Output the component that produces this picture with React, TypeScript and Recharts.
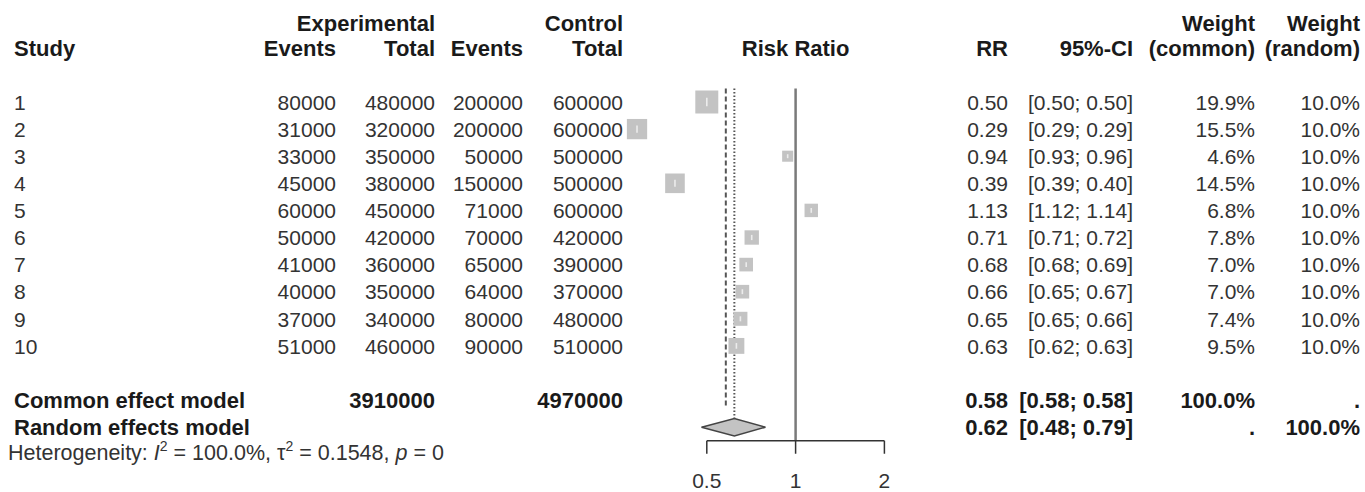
import React from 'react';
import { ComposedChart, Scatter, Area, XAxis, YAxis, ReferenceLine } from 'recharts';

// ---------- data ----------
const studies = ['1', '2', '3', '4', '5', '6', '7', '8', '9', '10'];
const expEvents = [80000, 31000, 33000, 45000, 60000, 50000, 41000, 40000, 37000, 51000];
const expTotal = [480000, 320000, 350000, 380000, 450000, 420000, 360000, 350000, 340000, 460000];
const ctrlEvents = [200000, 200000, 50000, 150000, 71000, 70000, 65000, 64000, 80000, 90000];
const ctrlTotal = [600000, 600000, 500000, 500000, 600000, 420000, 390000, 370000, 480000, 510000];
const rr = [0.5, 0.29, 0.94, 0.39, 1.13, 0.71, 0.68, 0.66, 0.65, 0.63];
const ciLower = [0.5, 0.29, 0.93, 0.39, 1.12, 0.71, 0.68, 0.65, 0.65, 0.62];
const ciUpper = [0.5, 0.29, 0.96, 0.4, 1.14, 0.72, 0.69, 0.67, 0.66, 0.63];
const weightCommon = [19.9, 15.5, 4.6, 14.5, 6.8, 7.8, 7.0, 7.0, 7.4, 9.5];
const weightRandom = [10.0, 10.0, 10.0, 10.0, 10.0, 10.0, 10.0, 10.0, 10.0, 10.0];

const commonTotals = { exp: 3910000, ctrl: 4970000 };
const commonEffect = { rr: 0.58, lower: 0.58, upper: 0.58 };
const randomEffect = { rr: 0.62, lower: 0.48, upper: 0.79 };
const xTicks = [0.5, 1, 2];

// ---------- layout ----------
const W = 1365;
const H = 492;
const FONT = '"Liberation Sans", Arial, Helvetica, sans-serif';
const FS = 21;
const FSB = 22;
const ROW1 = 102;
const ROWH = 27.1;
const PLOT_L = 600;
const PLOT_R = 900;
const X_ONE = 795.6;
const X_UNIT = 88.8; // px per doubling
const XMIN = Math.pow(2, (PLOT_L - X_ONE) / X_UNIT);
const XMAX = Math.pow(2, (PLOT_R - X_ONE) / X_UNIT);
const TOP = ROW1 - 0.5 * ROWH;
const BOTTOM = ROW1 + 12.5 * ROWH;

const COL = {
  study: 14,
  expEvents: 336,
  expTotal: 435,
  ctrlEvents: 523,
  ctrlTotal: 623,
  rr: 1008,
  ci: 1133,
  wCommon: 1255,
  wRandom: 1360,
};

const COMMON_ROW = 12;
const RANDOM_ROW = 13;
const DIAMOND_H = 0.32;

type Cell = { x: number; text: string; anchor: 'start' | 'end' };

const fmt2 = (v: number) => v.toFixed(2);
const ciText = (l: number, u: number) => `[${fmt2(l)}; ${fmt2(u)}]`;
const pct = (v: number) => `${v.toFixed(1)}%`;

const studyPoints = studies.map((s, i) => ({ x: rr[i], y: i + 1, w: weightCommon[i] }));

const textRows = [
  ...studies.map((s, i) => ({
    x: 1,
    y: i + 1,
    bold: false,
    cells: [
      { x: COL.study, text: s, anchor: 'start' },
      { x: COL.expEvents, text: String(expEvents[i]), anchor: 'end' },
      { x: COL.expTotal, text: String(expTotal[i]), anchor: 'end' },
      { x: COL.ctrlEvents, text: String(ctrlEvents[i]), anchor: 'end' },
      { x: COL.ctrlTotal, text: String(ctrlTotal[i]), anchor: 'end' },
      { x: COL.rr, text: fmt2(rr[i]), anchor: 'end' },
      { x: COL.ci, text: ciText(ciLower[i], ciUpper[i]), anchor: 'end' },
      { x: COL.wCommon, text: pct(weightCommon[i]), anchor: 'end' },
      { x: COL.wRandom, text: pct(weightRandom[i]), anchor: 'end' },
    ] as Cell[],
  })),
  {
    x: 1,
    y: COMMON_ROW,
    bold: true,
    cells: [
      { x: COL.study, text: 'Common effect model', anchor: 'start' },
      { x: COL.expTotal, text: String(commonTotals.exp), anchor: 'end' },
      { x: COL.ctrlTotal, text: String(commonTotals.ctrl), anchor: 'end' },
      { x: COL.rr, text: fmt2(commonEffect.rr), anchor: 'end' },
      { x: COL.ci, text: ciText(commonEffect.lower, commonEffect.upper), anchor: 'end' },
      { x: COL.wCommon, text: '100.0%', anchor: 'end' },
      { x: COL.wRandom, text: '.', anchor: 'end' },
    ] as Cell[],
  },
  {
    x: 1,
    y: RANDOM_ROW,
    bold: true,
    cells: [
      { x: COL.study, text: 'Random effects model', anchor: 'start' },
      { x: COL.rr, text: fmt2(randomEffect.rr), anchor: 'end' },
      { x: COL.ci, text: ciText(randomEffect.lower, randomEffect.upper), anchor: 'end' },
      { x: COL.wCommon, text: '.', anchor: 'end' },
      { x: COL.wRandom, text: '100.0%', anchor: 'end' },
    ] as Cell[],
  },
];

const diamondData = [
  { x: randomEffect.lower, band: [RANDOM_ROW, RANDOM_ROW] },
  { x: randomEffect.rr, band: [RANDOM_ROW - DIAMOND_H, RANDOM_ROW + DIAMOND_H] },
  { x: randomEffect.upper, band: [RANDOM_ROW, RANDOM_ROW] },
];

const SquareShape = (props: any) => {
  const { cx, cy, payload } = props;
  if (cx == null || cy == null) return <g />;
  const s = 5.15 * Math.sqrt(payload.w);
  return (
    <g>
      <rect x={cx - s / 2} y={cy - s / 2} width={s} height={s} fill="#c3c3c3" />
      <line x1={cx} x2={cx} y1={cy - s * 0.18} y2={cy + s * 0.18} stroke="#ececec" strokeWidth={1.6} />
    </g>
  );
};

const RowTextShape = (props: any) => {
  const { cy, payload } = props;
  if (cy == null) return <g />;
  const fs = payload.bold ? FSB : FS;
  return (
    <g>
      {payload.cells.map((c: Cell, k: number) => (
        <text
          key={k}
          x={c.x}
          y={cy + fs * 0.37}
          textAnchor={c.anchor}
          fontFamily={FONT}
          fontSize={fs}
          fontWeight={payload.bold ? 700 : 400}
          fill={payload.bold ? '#1a1a1a' : '#333'}
        >
          {c.text}
        </text>
      ))}
    </g>
  );
};

const headerA: Cell[] = [
  { x: COL.expTotal, text: 'Experimental', anchor: 'end' },
  { x: COL.ctrlTotal, text: 'Control', anchor: 'end' },
  { x: COL.wCommon, text: 'Weight', anchor: 'end' },
  { x: COL.wRandom, text: 'Weight', anchor: 'end' },
];
const headerB: Cell[] = [
  { x: COL.study, text: 'Study', anchor: 'start' },
  { x: COL.expEvents, text: 'Events', anchor: 'end' },
  { x: COL.expTotal, text: 'Total', anchor: 'end' },
  { x: COL.ctrlEvents, text: 'Events', anchor: 'end' },
  { x: COL.ctrlTotal, text: 'Total', anchor: 'end' },
  { x: COL.rr, text: 'RR', anchor: 'end' },
  { x: COL.ci, text: '95%-CI', anchor: 'end' },
  { x: COL.wCommon, text: '(common)', anchor: 'end' },
  { x: COL.wRandom, text: '(random)', anchor: 'end' },
];

export default function App() {
  return (
    <div style={{ position: 'absolute', left: 0, top: 0, width: W, height: H, background: '#fff' }}>
      <ComposedChart
        width={W}
        height={H}
        data={diamondData}
        margin={{ top: TOP, right: W - PLOT_R, bottom: H - BOTTOM - 40, left: PLOT_L }}
      >
        <XAxis
          type="number"
          dataKey="x"
          scale="log"
          domain={[XMIN, XMAX]}
          ticks={xTicks}
          interval={0}
          axisLine={false}
          tickLine={{ stroke: '#333', strokeWidth: 1.5 }}
          tickSize={13}
          tickMargin={19}
          height={40}
          tick={{ fill: '#333', fontSize: FS, fontFamily: FONT }}
          tickFormatter={(v: number) => String(v)}
        />
        <YAxis type="number" dataKey="y" domain={[0.5, 13.5]} reversed hide />
        <ReferenceLine x={1} stroke="#7a7a7a" strokeWidth={2.5} />
        <ReferenceLine
          segment={[
            { x: commonEffect.rr, y: 0.5 },
            { x: commonEffect.rr, y: 12.3 },
          ]}
          stroke="#555"
          strokeWidth={2}
          strokeDasharray="5 3"
        />
        <ReferenceLine
          segment={[
            { x: randomEffect.rr, y: 0.5 },
            { x: randomEffect.rr, y: RANDOM_ROW - DIAMOND_H },
          ]}
          stroke="#555"
          strokeWidth={2}
          strokeDasharray="1.5 2"
        />
        <ReferenceLine
          segment={[
            { x: xTicks[0], y: 13.5 },
            { x: xTicks[xTicks.length - 1], y: 13.5 },
          ]}
          stroke="#333"
          strokeWidth={1.5}
        />
        <Area
          type="linear"
          dataKey="band"
          stroke="#444"
          strokeWidth={1.5}
          fill="#c3c3c3"
          fillOpacity={1}
          dot={false}
          activeDot={false}
          isAnimationActive={false}
        />
        <Scatter data={studyPoints} shape={SquareShape} isAnimationActive={false} />
        <Scatter data={textRows} shape={RowTextShape} isAnimationActive={false} />
      </ComposedChart>
      <svg
        width={W}
        height={H}
        style={{ position: 'absolute', left: 0, top: 0, pointerEvents: 'none' }}
      >
        {headerA.map((c, k) => (
          <text key={'a' + k} x={c.x} y={23 + FSB * 0.36} textAnchor={c.anchor} fontFamily={FONT} fontSize={FSB} fontWeight={700} fill="#1a1a1a">
            {c.text}
          </text>
        ))}
        {headerB.map((c, k) => (
          <text key={'b' + k} x={c.x} y={48 + FSB * 0.36} textAnchor={c.anchor} fontFamily={FONT} fontSize={FSB} fontWeight={700} fill="#1a1a1a">
            {c.text}
          </text>
        ))}
        <text x={X_ONE} y={48 + FSB * 0.36} textAnchor="middle" fontFamily={FONT} fontSize={FSB} fontWeight={700} fill="#1a1a1a">
          Risk Ratio
        </text>
        <text x={8} y={452 + 7.7} fontFamily={FONT} fontSize={21.5} fill="#333">
          Heterogeneity: <tspan fontStyle="italic">I</tspan>
          <tspan dy={-8.5} fontSize={14}>2</tspan>
          <tspan dy={8.5}> = 100.0%, τ</tspan>
          <tspan dy={-8.5} fontSize={14}>2</tspan>
          <tspan dy={8.5}> = 0.1548, </tspan>
          <tspan fontStyle="italic">p</tspan>
          <tspan> = 0</tspan>
        </text>
      </svg>
    </div>
  );
}
